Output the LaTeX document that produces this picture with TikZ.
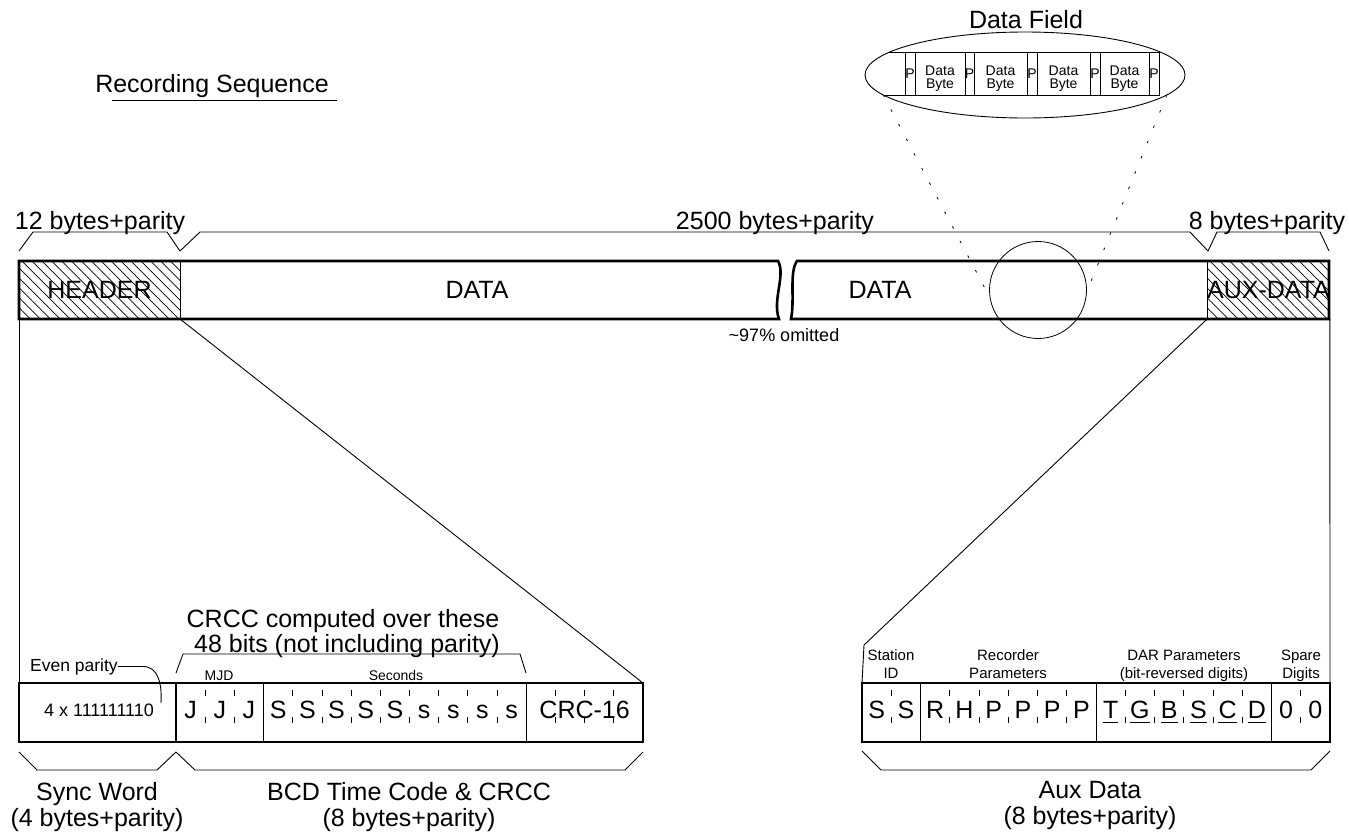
\documentclass[tikz,border=0pt]{standalone}
\usepackage{fontspec}
\setmainfont{Liberation Sans}
\usetikzlibrary{patterns.meta,shapes.geometric}
\begin{document}
\begin{tikzpicture}[x=1pt,y=-1pt,
  big/.style={font=\fontsize{25}{26}\selectfont, inner sep=0pt},
  mid/.style={font=\fontsize{18}{20}\selectfont, inner sep=0pt},
  small/.style={font=\fontsize{15}{17}\selectfont, inner sep=0pt},
  tiny/.style={font=\fontsize{14}{15}\selectfont, inner sep=0pt},
  letter/.style={font=\fontsize{25}{26}\selectfont, inner sep=0pt, anchor=base},
  thickline/.style={line width=2.6pt},
  thinline/.style={line width=0.9pt},
  brace/.style={line width=0.9pt, line join=miter},
  hatch/.style={pattern={Lines[angle=-45,distance=7pt,line width=0.7pt]}},
  tick/.style={line width=0.8pt, dash pattern=on 6pt off 21pt, dash phase=20pt},
  cellsep/.style={line width=0.8pt},
  dotted link/.style={line width=0.8pt, dash pattern=on 2.5pt off 14pt},
  box/.style={draw, thickline, inner sep=0pt, outer sep=0pt, minimum height=59pt},
]
\useasboundingbox (0,0) rectangle (1349,833);

% ---------- title ----------
\node[big, anchor=base] (title) at (212,92) {Recording Sequence};
\draw[line width=1pt] (112,100) -- (337,100);

% ---------- data field (magnified) ----------
\node[big, anchor=base] (dftitle) at (1026,28) {Data Field};
\node[draw, ellipse, line width=0.9pt, inner sep=0pt, outer sep=0pt,
      minimum width=320pt, minimum height=86pt] (field) at (1025,75) {};
\begin{scope}
  \clip (1025,75) ellipse [x radius=160pt, y radius=43pt];
  \draw[cellsep] (880,52) -- (1160,52) (880,95) -- (1160,95);
\end{scope}
\foreach \x in {905,915,965,974,1027,1037,1090,1100,1149,1159}
  \draw[cellsep] (\x,52) -- (\x,95);
\foreach \x [count=\i] in {910,969.5,1032,1095,1154}
  \node[tiny, anchor=base] (p\i) at (\x,78) {P};
\foreach \x [count=\i] in {940,1000.5,1063.5,1124.5} {
  \node[tiny, anchor=base] (db\i a) at (\x,75) {Data};
  \node[tiny, anchor=base] (db\i b) at (\x,88) {Byte};
}

% ---------- recording bar ----------
\node[hatch, draw, line width=1pt, inner sep=0pt, outer sep=0pt,
      minimum width=161pt, minimum height=58pt,
      font=\fontsize{25}{26}\selectfont] (header) at (99.5,290) {HEADER};
\node[hatch, draw, line width=1pt, inner sep=0pt, outer sep=0pt,
      minimum width=121pt, minimum height=58pt,
      font=\fontsize{25}{26}\selectfont] (aux) at (1268.5,290) {AUX-DATA};
\draw[thickline, line join=miter]
  (19,261) -- (778,261) .. controls (786,275) and (772,300) .. (779,319)
  -- (19,319) -- cycle;
\draw[thickline, line join=miter]
  (797,261) .. controls (789,272) and (795,300) .. (791,319)
  -- (1329,319) -- (1329,261) -- cycle;
\node[big] (data1) at (477,290) {DATA};
\node[big] (data2) at (880,290) {DATA};
\node[mid, anchor=base] (omit) at (784,341) {\char`\~97\% omitted};

% magnifier circle
\node[draw, circle, line width=0.8pt, inner sep=0pt, outer sep=0pt,
      minimum size=97pt] (mag) at (1038,290) {};
\draw[dotted link] (field.188) -- (mag.190);
\draw[dotted link] (field.-8) -- (mag.-3);

% top braces
\draw[brace] (19,251) -- (33,232) -- (167,232) -- (180,251);
\draw[brace] (180,251) -- (200,232) -- (1190,232) -- (1208,251);
\draw[brace] (1208,251) -- (1217,232) -- (1320,232) -- (1329,251);
\node[big, anchor=base] (b12) at (100,229) {12 bytes+parity};
\node[big, anchor=base] (b2500) at (775,229) {2500 bytes+parity};
\node[big, anchor=base] (b8) at (1267,229) {8 bytes+parity};

% ---------- bottom left boxes ----------
\node[box, minimum width=157pt] (sync) at (97.5,712.5) {};
\node[box, minimum width=467pt] (bcd) at (409.5,712.5) {};
\node[mid, anchor=base] (ones) at (99,716) {4 x 111111110};

\foreach \i in {1,2,4,5,6,7,8,9,10,11,13,14,15}
  \draw[tick] ({176+\i*29.1875},683) -- ({176+\i*29.1875},742);
\foreach \i in {3,12}
  \draw[cellsep] ({176+\i*29.1875},683) -- ({176+\i*29.1875},742);
\foreach \c [count=\i from 0] in {J,J,J,S,S,S,S,S,s,s,s,s}
  \node[letter] (bl\i) at ({176+(\i+0.5)*29.1875},718) {\c};
\node[letter] (crc) at (584.6,718) {CRC-16};

\node[tiny, anchor=base] (mjd) at (219,680) {MJD};
\node[tiny, anchor=base] (secs) at (396,680) {Seconds};
\draw[brace] (176,673) -- (183,654) -- (520,654) -- (526,673);
\node[big, anchor=base] (crc1) at (343,627) {CRCC computed over these};
\node[big, anchor=base] (crc2) at (347,652) {48 bits (not including parity)};

\node[font=\fontsize{17.5}{19}\selectfont, inner sep=0pt, anchor=base west] (even) at (30,671) {Even parity};
\draw[thinline] (even.east) -- ++(25,0) .. controls +(16,0) and +(1,-18) .. (161,703);

\draw[brace] (19,752) -- (37,770) -- (157,770) -- (176,752);
\draw[brace] (176,752) -- (195,770) -- (625,770) -- (643,752);
\node[big, anchor=base] (sw1) at (97,800) {Sync Word};
\node[big, anchor=base] (sw2) at (97,826) {(4 bytes+parity)};
\node[big, anchor=base] (bc1) at (409,800) {BCD Time Code \& CRCC};
\node[big, anchor=base] (bc2) at (409,826) {(8 bytes+parity)};

% ---------- bottom right box ----------
\node[box, minimum width=468pt] (auxbox) at (1096,712.5) {};
\foreach \i in {1,3,4,5,6,7,9,10,11,12,13,15}
  \draw[tick] ({862+\i*29.25},683) -- ({862+\i*29.25},742);
\foreach \i in {2,8,14}
  \draw[cellsep] ({862+\i*29.25},683) -- ({862+\i*29.25},742);
\foreach \c [count=\i from 0] in {S,S,R,H,P,P,P,P,T,G,B,S,C,D,0,0}
  \node[letter] (ar\i) at ({862+(\i+0.5)*29.25},718) {\c};
\foreach \i in {8,...,13}
  \draw[line width=1pt] ([yshift=-4pt]ar\i.base west) -- ([yshift=-4pt]ar\i.base east);

\node[small, anchor=base] (st1) at (891,660.5) {Station};
\node[small, anchor=base] (st2) at (891,678.5) {ID};
\node[small, anchor=base] (rp1) at (1008,660.5) {Recorder};
\node[small, anchor=base] (rp2) at (1008,678.5) {Parameters};
\node[small, anchor=base] (dp1) at (1184,660.5) {DAR Parameters};
\node[small, anchor=base] (dp2) at (1184,678.5) {(bit-reversed digits)};
\node[small, anchor=base] (sd1) at (1301,660.5) {Spare};
\node[small, anchor=base] (sd2) at (1301,678.5) {Digits};

\draw[brace] (862,751) -- (881,770) -- (1311,770) -- (1330,751);
\node[big, anchor=base] (ad1) at (1090,798) {Aux Data};
\node[big, anchor=base] (ad2) at (1090,824) {(8 bytes+parity)};

% ---------- connectors from bar to detail boxes ----------
\coordinate (kink) at (864,645);
\draw[thinline] (header.south west) -- (sync.north west);
\draw[thinline] (header.south east) -- (bcd.north east);
\draw[thinline] (aux.south west) -- (kink) -- (auxbox.north west);
\draw[thinline] (aux.south east) -- (auxbox.north east);
\end{tikzpicture}
\end{document}
